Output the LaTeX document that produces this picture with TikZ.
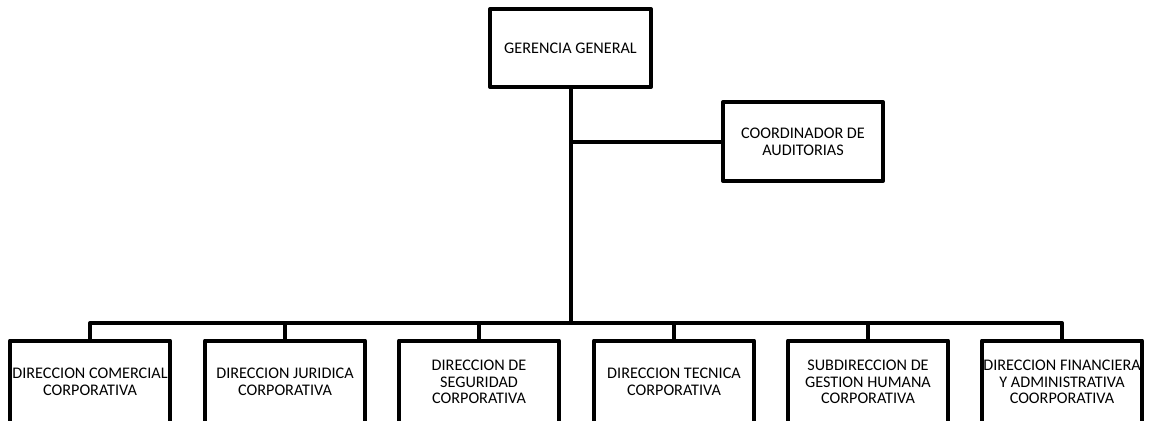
\documentclass[tikz,border=0pt]{standalone}
\usepackage{fontspec}
\setmainfont{Carlito}
\begin{document}
\begin{tikzpicture}[x=1pt,y=-1pt,
  box/.style={draw=black,line width=4pt,fill=white,minimum width=160pt,minimum height=79pt,inner sep=1pt,align=center,font=\fontsize{16.2}{16.7}\selectfont,line join=round},
  conn/.style={draw=black,line width=4pt,line join=round}]
\useasboundingbox (0,0) rectangle (1150,420);
\clip (0,0) rectangle (1150,420);
\node[box,minimum width=161pt,minimum height=78pt] (gg) at (570.5,48) {GERENCIA GENERAL};
\node[box] (ca) at (803,141.5) {COORDINADOR DE\\AUDITORIAS};
\coordinate (t) at (571,323);
\coordinate (m) at (571,141.5);
\tikzset{low/.style={box,minimum height=83pt}}
\node[low] (b1) at (90,382) {DIRECCION COMERCIAL\\CORPORATIVA};
\node[low] (b2) at (285,382) {DIRECCION JURIDICA\\CORPORATIVA};
\node[low] (b3) at (479,382) {DIRECCION DE\\SEGURIDAD\\CORPORATIVA};
\node[low] (b4) at (674,382) {DIRECCION TECNICA\\CORPORATIVA};
\node[low] (b5) at (868,382) {SUBDIRECCION DE\\GESTION HUMANA\\CORPORATIVA};
\node[low] (b6) at (1062,382) {DIRECCION FINANCIERA\\Y ADMINISTRATIVA\\COORPORATIVA};
\draw[conn] (gg.south -| t) -- (t);
\draw[conn] (m) -- (ca.west);
\draw[conn] (b1.north) -- (b1.north |- t) -- (b6.north |- t) -- (b6.north);
\foreach \n in {b2,b3,b4,b5} \draw[conn] (\n.north |- t) -- (\n.north);
\end{tikzpicture}
\end{document}
